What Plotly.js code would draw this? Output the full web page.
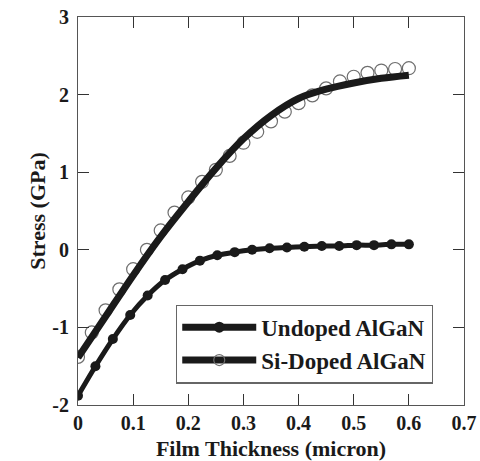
<!DOCTYPE html>
<html>
<head>
<meta charset="utf-8">
<script src="https://cdn.plot.ly/plotly-3.0.1.min.js"></script>
<style>html,body{margin:0;padding:0;background:#fff;}#chart{width:480px;height:461px;}</style>
</head>
<body>
<div id="chart"></div>
<script>
// Undoped AlGaN (filled markers)
const undopedX = [0, 0.0316, 0.0632, 0.0947, 0.1263, 0.1579, 0.1895, 0.2211, 0.2526, 0.2842,
                  0.3158, 0.3474, 0.3789, 0.4105, 0.4421, 0.4737, 0.5053, 0.5368, 0.5684, 0.6];
const undopedY = [-1.88, -1.50, -1.15, -0.84, -0.59, -0.39, -0.25, -0.14, -0.07, -0.03,
                  0.00, 0.02, 0.03, 0.04, 0.05, 0.05, 0.06, 0.06, 0.07, 0.07];
// Si-Doped AlGaN (open circles)
const dopedX = [0, 0.025, 0.05, 0.075, 0.1, 0.125, 0.15, 0.175, 0.2, 0.225, 0.25, 0.275, 0.3,
                0.325, 0.35, 0.375, 0.4, 0.425, 0.45, 0.475, 0.5, 0.525, 0.55, 0.575, 0.6];
const dopedY = [-1.38, -1.065, -0.78, -0.51, -0.25, 0.0, 0.25, 0.48, 0.675, 0.876, 1.03, 1.21, 1.38,
                1.52, 1.655, 1.78, 1.89, 1.99, 2.08, 2.17, 2.23, 2.28, 2.31, 2.33, 2.34];
// Si-Doped fit curve (thick line)
const fitX = [0, 0.05, 0.1, 0.15, 0.2, 0.25, 0.3, 0.35, 0.4, 0.45, 0.5, 0.55, 0.6];
const fitY = [-1.39, -0.86, -0.33, 0.17, 0.62, 1.05, 1.43, 1.73, 1.95, 2.07, 2.15, 2.21, 2.25];

const xTicks = [0, 0.1, 0.2, 0.3, 0.4, 0.5, 0.6, 0.7];
const xTickText = ['0', '0.1', '0.2', '0.3', '0.4', '0.5', '0.6', '0.7'];
const yTicks = [-2, -1, 0, 1, 2, 3];
const yTickText = ['-2', '-1', '0', '1', '2', '3'];
const seriesNames = ['Undoped AlGaN', 'Si-Doped AlGaN'];

const FONT = 'Liberation Serif, Times New Roman, serif';
const DARK = '#1a1a1a';

const traces = [
  {x: dopedX, y: dopedY, mode: 'markers', showlegend: false,
   marker: {symbol: 'circle-open', size: 13, color: '#6e6e6e', line: {width: 1.2}}},
  {x: fitX, y: fitY, mode: 'lines', showlegend: false,
   line: {color: DARK, width: 7, shape: 'spline', smoothing: 1}},
  {x: undopedX, y: undopedY, mode: 'lines+markers', showlegend: false,
   line: {color: DARK, width: 5, shape: 'spline', smoothing: 0.8},
   marker: {symbol: 'circle', size: 10, color: DARK}},
  {x: [null], y: [null], mode: 'lines+markers', name: seriesNames[0],
   line: {color: DARK, width: 7}, marker: {symbol: 'circle', size: 11, color: DARK}},
  {x: [null], y: [null], mode: 'lines+markers', name: seriesNames[1],
   line: {color: DARK, width: 7}, marker: {symbol: 'circle-open', size: 11, color: '#6e6e6e', line: {width: 1.2}}}
];

const axisCommon = {
  showgrid: false, zeroline: false, showline: true, linecolor: '#555', linewidth: 1,
  mirror: 'ticks', ticks: 'inside', ticklen: 11, tickcolor: '#333', tickwidth: 1,
  tickfont: {family: FONT, size: 20, color: DARK, weight: 'bold'}
};

const layout = {
  width: 480, height: 461,
  margin: {l: 78, r: 16, t: 17, b: 56},
  paper_bgcolor: '#fff', plot_bgcolor: '#fff',
  showlegend: true,
  xaxis: Object.assign({}, axisCommon, {
    range: [0, 0.7], tickvals: xTicks, ticktext: xTickText,
    title: {text: '<b>Film Thickness (micron)</b>', font: {family: FONT, size: 22, color: DARK}}
  }),
  yaxis: Object.assign({}, axisCommon, {
    range: [-2, 3], tickvals: yTicks, ticktext: yTickText, ticklabelstandoff: 4,
    title: {text: '<b>Stress (GPa)</b>', font: {family: FONT, size: 22, color: DARK}, standoff: 0}
  }),
  legend: {
    x: 0.254, y: 0.259, xanchor: 'left', yanchor: 'top',
    bordercolor: '#666', borderwidth: 1.2, bgcolor: '#fff',
    font: {family: FONT, size: 23, color: DARK, weight: 'bold'},
    itemwidth: 74, tracegroupgap: 0
  }
};

Plotly.newPlot('chart', traces, layout, {displayModeBar: false, staticPlot: true});
</script>
</body>
</html>
